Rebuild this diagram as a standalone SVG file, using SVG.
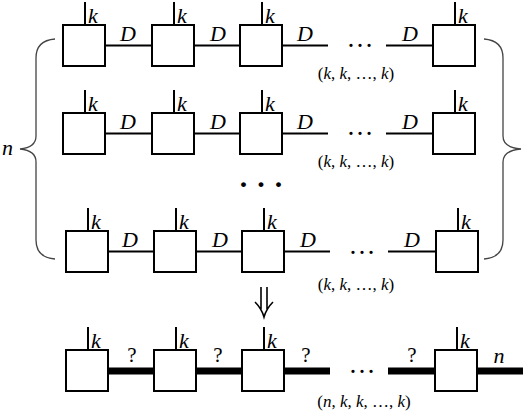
<svg xmlns="http://www.w3.org/2000/svg" width="526" height="414" viewBox="0 0 526 414">
<style>
.box{fill:#fff;stroke:#000;stroke-width:2}
.leg{stroke:#000;stroke-width:2}
.ln{stroke:#000;stroke-width:2}
.thick{stroke:#000;stroke-width:7}
.brace{fill:none;stroke:#444;stroke-width:1.3}
.m{font-family:"Liberation Serif","DejaVu Serif",serif;font-style:italic;font-size:22px;fill:#000}
.lbl{font-family:"Liberation Serif","DejaVu Serif",serif;font-size:22px;font-style:italic;fill:#000;text-anchor:middle}
.q{font-family:"Liberation Serif","DejaVu Serif",serif;font-size:21px;fill:#000;text-anchor:middle}
.tup{font-family:"Liberation Serif","DejaVu Serif",serif;font-size:17px;fill:#000;text-anchor:middle}
.dots{font-family:"Liberation Serif","DejaVu Serif",serif;font-size:27px;fill:#000;text-anchor:middle}
.big{font-family:"Liberation Serif","DejaVu Serif",serif;font-size:30px;font-weight:bold;fill:#000;text-anchor:middle}
</style>
<defs>
<g id="node">
<rect class="box" x="0" y="0" width="42" height="41"/>
<line class="leg" x1="22" y1="0" x2="22" y2="-23"/>
<text class="m" x="25" y="-2">k</text>
</g>
</defs>

<!-- braces -->
<g id="brace-left">
<path class="brace" d="M55,39 C42,40 36,46 36,58 L36,136 C36,144 30,148 20,149 C30,150 36,154 36,162 L36,240 C36,252 42,258 55,259"/>
<text class="m" x="2" y="155">n</text>
</g>
<g id="brace-right">
<path class="brace" d="M484,39 C497,40 503,46 503,58 L503,136 C503,144 509,148 521,149 C509,150 503,154 503,162 L503,240 C503,252 497,258 484,259"/>
</g>

<!-- connectors -->
<g id="connectors">
<line class="ln" x1="105" y1="45.5" x2="152" y2="45.5"/>
<line class="ln" x1="193" y1="45.5" x2="240" y2="45.5"/>
<line class="ln" x1="281" y1="45.5" x2="328" y2="45.5"/>
<line class="ln" x1="386" y1="45.5" x2="433" y2="45.5"/>
<line class="ln" x1="105" y1="133.5" x2="152" y2="133.5"/>
<line class="ln" x1="193" y1="133.5" x2="240" y2="133.5"/>
<line class="ln" x1="281" y1="133.5" x2="328" y2="133.5"/>
<line class="ln" x1="386" y1="133.5" x2="433" y2="133.5"/>
<line class="ln" x1="107" y1="251.5" x2="154" y2="251.5"/>
<line class="ln" x1="195" y1="251.5" x2="242" y2="251.5"/>
<line class="ln" x1="283" y1="251.5" x2="330" y2="251.5"/>
<line class="ln" x1="388" y1="251.5" x2="436" y2="251.5"/>
<line class="thick" x1="107" y1="371" x2="154" y2="371"/>
<line class="thick" x1="195" y1="371" x2="242" y2="371"/>
<line class="thick" x1="283" y1="371" x2="330" y2="371"/>
<line class="thick" x1="388" y1="371" x2="435" y2="371"/>
<line class="thick" x1="476" y1="371" x2="523" y2="371"/>
<path d="M261,287 L261,309 M267,287 L267,309 M255,302 C259,306 262,310 264,317 C266,310 269,306 273,302" fill="none" stroke="#000" stroke-width="1.6"/>
</g>

<!-- connector labels -->
<g id="labels">
<text class="lbl" x="128" y="41">D</text>
<text class="lbl" x="218" y="41">D</text>
<text class="lbl" x="305" y="41">D</text>
<text class="lbl" x="410" y="41">D</text>
<text class="dots" x="360" y="47">…</text>
<text class="tup" x="356" y="79">(<tspan font-style="italic">k</tspan>, <tspan font-style="italic">k</tspan>, …, <tspan font-style="italic">k</tspan>)</text>

<text class="lbl" x="128" y="129">D</text>
<text class="lbl" x="218" y="129">D</text>
<text class="lbl" x="305" y="129">D</text>
<text class="lbl" x="410" y="129">D</text>
<text class="dots" x="360" y="135">…</text>
<text class="tup" x="356" y="167">(<tspan font-style="italic">k</tspan>, <tspan font-style="italic">k</tspan>, …, <tspan font-style="italic">k</tspan>)</text>

<text class="big" x="261" y="194">· · ·</text>

<text class="lbl" x="130" y="247">D</text>
<text class="lbl" x="220" y="247">D</text>
<text class="lbl" x="308" y="247">D</text>
<text class="lbl" x="412" y="247">D</text>
<text class="dots" x="362" y="254">…</text>
<text class="tup" x="356" y="290">(<tspan font-style="italic">k</tspan>, <tspan font-style="italic">k</tspan>, …, <tspan font-style="italic">k</tspan>)</text>

<text class="q" x="132" y="362">?</text>
<text class="q" x="218" y="362">?</text>
<text class="q" x="306" y="362">?</text>
<text class="q" x="412" y="362">?</text>
<text class="lbl" x="499" y="363">n</text>
<text class="dots" x="362" y="373">…</text>
<text class="tup" x="364" y="407">(<tspan font-style="italic">n</tspan>, <tspan font-style="italic">k</tspan>, <tspan font-style="italic">k</tspan>, …, <tspan font-style="italic">k</tspan>)</text>
</g>

<!-- nodes -->
<g id="r1n1"><use href="#node" x="63" y="25"/></g>
<g id="r1n2"><use href="#node" x="152" y="25"/></g>
<g id="r1n3"><use href="#node" x="240" y="25"/></g>
<g id="r1n4"><use href="#node" x="433" y="25"/></g>
<g id="r2n1"><use href="#node" x="63" y="113"/></g>
<g id="r2n2"><use href="#node" x="152" y="113"/></g>
<g id="r2n3"><use href="#node" x="240" y="113"/></g>
<g id="r2n4"><use href="#node" x="433" y="113"/></g>
<g id="r3n1"><use href="#node" x="66" y="231"/></g>
<g id="r3n2"><use href="#node" x="154" y="231"/></g>
<g id="r3n3"><use href="#node" x="242" y="231"/></g>
<g id="r3n4"><use href="#node" x="436" y="231"/></g>
<g id="b1"><use href="#node" x="66" y="350"/></g>
<g id="b2"><use href="#node" x="154" y="350"/></g>
<g id="b3"><use href="#node" x="242" y="350"/></g>
<g id="b4"><use href="#node" x="435" y="350"/></g>
</svg>
